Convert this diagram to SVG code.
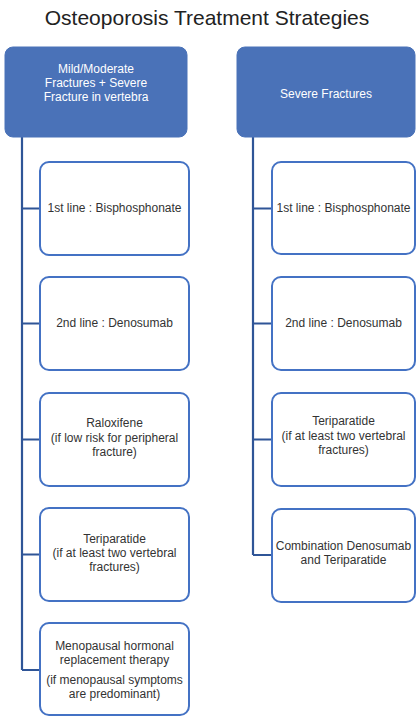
<svg xmlns="http://www.w3.org/2000/svg" width="416" height="716" viewBox="0 0 416 716">
<style>
.title{font-family:"Liberation Sans",Arial,sans-serif;font-size:21px;fill:#222;text-anchor:middle}
.hd rect{fill:#4A72B8;stroke:#4A72B8;stroke-width:1}
.hd text{font-family:"Liberation Sans",Arial,sans-serif;font-size:12px;fill:#ffffff;text-anchor:middle}
.ch rect{fill:#ffffff;stroke:#4472C4;stroke-width:2}
.ch text{font-family:"Liberation Sans",Arial,sans-serif;font-size:12px;fill:#333;text-anchor:middle}
.conn path{fill:none;stroke:#2F5597;stroke-width:2.2}
</style>
<rect width="416" height="716" fill="#ffffff"/>
<text class="title" x="207" y="25">Osteoporosis Treatment Strategies</text>
<g class="conn" id="connectors">
<path d="M22 137 V670 M22 208.5 H40 M22 323.5 H40 M22 439.5 H40 M22 554.5 H40 M22 670 H40"/>
<path d="M253 137 V555 M253 208.5 H272 M253 323.5 H272 M253 439.5 H272 M253 555 H272"/>
</g>
<g class="hd" id="hdr-left">
<rect x="5" y="47" width="182" height="90" rx="8"/>
<text x="96" y="73">Mild/Moderate</text>
<text x="96" y="87">Fractures + Severe</text>
<text x="96" y="101">Fracture in vertebra</text>
</g>
<g class="hd" id="hdr-right">
<rect x="237" y="47" width="178" height="90" rx="8"/>
<text x="326" y="98">Severe Fractures</text>
</g>
<g class="ch" id="l1">
<rect x="40" y="162" width="149" height="93" rx="9"/>
<text x="114.5" y="212">1st line : Bisphosphonate</text>
</g>
<g class="ch" id="l2">
<rect x="40" y="277" width="149" height="93" rx="9"/>
<text x="114.5" y="327">2nd line : Denosumab</text>
</g>
<g class="ch" id="l3">
<rect x="40" y="393" width="149" height="93" rx="9"/>
<text x="114.5" y="427">Raloxifene</text>
<text x="114.5" y="441.5">(if low risk for peripheral</text>
<text x="114.5" y="455.5">fracture)</text>
</g>
<g class="ch" id="l4">
<rect x="40" y="508" width="149" height="93" rx="9"/>
<text x="114.5" y="543">Teriparatide</text>
<text x="114.5" y="557">(if at least two vertebral</text>
<text x="114.5" y="571">fractures)</text>
</g>
<g class="ch" id="l5">
<rect x="40" y="623" width="149" height="92" rx="9"/>
<text x="114.5" y="650">Menopausal hormonal</text>
<text x="114.5" y="664">replacement therapy</text>
<text x="114.5" y="684">(if menopausal symptoms</text>
<text x="114.5" y="698">are predominant)</text>
</g>
<g class="ch" id="r1">
<rect x="272" y="162" width="143" height="92" rx="9"/>
<text x="343.5" y="212">1st line : Bisphosphonate</text>
</g>
<g class="ch" id="r2">
<rect x="272" y="277" width="143" height="93" rx="9"/>
<text x="343.5" y="327">2nd line : Denosumab</text>
</g>
<g class="ch" id="r3">
<rect x="272" y="393" width="143" height="93" rx="9"/>
<text x="343.5" y="425">Teriparatide</text>
<text x="343.5" y="440">(if at least two vertebral</text>
<text x="343.5" y="454">fractures)</text>
</g>
<g class="ch" id="r4">
<rect x="272" y="509" width="143" height="93" rx="9"/>
<text x="343.5" y="550">Combination Denosumab</text>
<text x="343.5" y="564">and Teriparatide</text>
</g>
</svg>
